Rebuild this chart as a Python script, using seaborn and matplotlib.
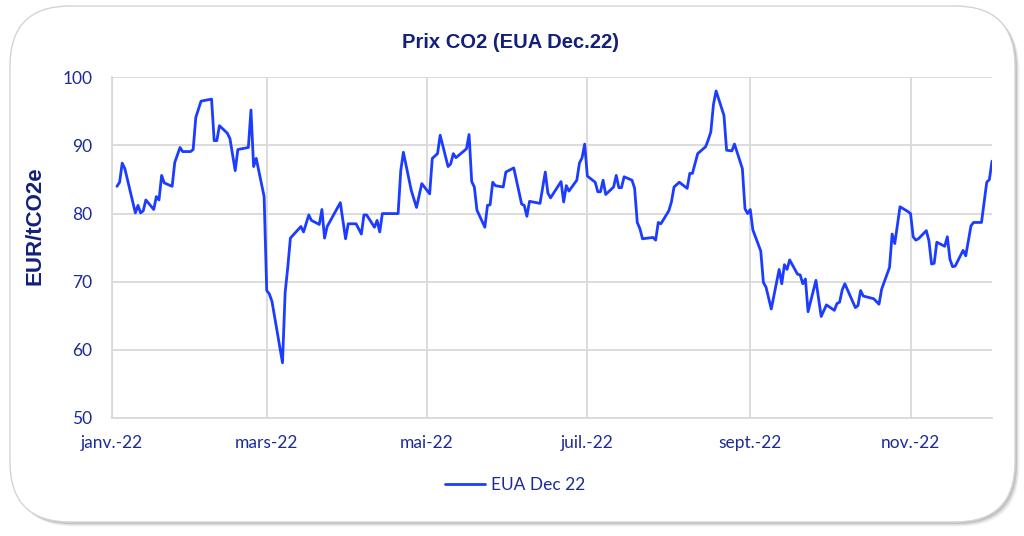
import pandas as pd
import numpy as np
import seaborn as sns
import matplotlib.pyplot as plt
from matplotlib.patches import FancyBboxPatch

# EUA Dec.22 prix de cloture
dates = [
    "01-03", "01-04", "01-05", "01-06", "01-10", "01-11", "01-12", "01-13", "01-14",
    "01-17", "01-18", "01-19", "01-20", "01-21", "01-24", "01-25", "01-27", "01-28",
    "01-31", "02-01", "02-02", "02-04", "02-08", "02-09", "02-10", "02-11", "02-14",
    "02-15", "02-17", "02-18", "02-22", "02-23", "02-24", "02-25", "02-28", "03-01",
    "03-02", "03-03", "03-07", "03-08", "03-09", "03-10", "03-14", "03-15", "03-17",
    "03-18", "03-21", "03-22", "03-23", "03-24", "03-29", "03-31", "04-01", "04-04",
    "04-06", "04-07", "04-08", "04-11", "04-12", "04-13", "04-14", "04-20", "04-21",
    "04-22", "04-25", "04-27", "04-29", "05-02", "05-03", "05-05", "05-06", "05-09",
    "05-10", "05-11", "05-12", "05-16", "05-17", "05-18", "05-19", "05-20", "05-23",
    "05-24", "05-25", "05-26", "05-27", "05-30", "05-31", "06-03", "06-06", "06-07",
    "06-08", "06-09", "06-13", "06-15", "06-16", "06-17", "06-21", "06-22", "06-23",
    "06-24", "06-27", "06-28", "06-29", "06-30", "07-01", "07-04", "07-05", "07-06",
    "07-07", "07-08", "07-11", "07-12", "07-13", "07-14", "07-15", "07-18", "07-19",
    "07-20", "07-21", "07-22", "07-26", "07-27", "07-28", "07-29", "08-01", "08-02",
    "08-03", "08-05", "08-08", "08-09", "08-10", "08-12", "08-15", "08-16", "08-17",
    "08-18", "08-19", "08-22", "08-23", "08-25", "08-26", "08-29", "08-30", "08-31",
    "09-01", "09-02", "09-05", "09-06", "09-07", "09-09", "09-12", "09-13", "09-14",
    "09-15", "09-16", "09-19", "09-20", "09-21", "09-22", "09-23", "09-26", "09-28",
    "09-30", "10-03", "10-04", "10-05", "10-06", "10-07", "10-11", "10-12", "10-13",
    "10-14", "10-18", "10-20", "10-21", "10-24", "10-25", "10-26", "10-28", "10-31",
    "11-01", "11-02", "11-03", "11-04", "11-07", "11-08", "11-09", "11-10", "11-11",
    "11-14", "11-15", "11-16", "11-17", "11-18", "11-21", "11-22", "11-23", "11-24",
    "11-25", "11-28", "11-30", "12-01", "12-02",
]
prix = [
    84.0, 84.6, 87.4, 86.6, 80.1, 81.2, 80.1, 80.4, 82.0,
    80.6, 82.5, 82.0, 85.6, 84.5, 84.0, 87.5, 89.7, 89.1,
    89.1, 89.4, 94.1, 96.5, 96.8, 90.7, 90.7, 92.9, 91.8,
    91.0, 86.3, 89.4, 89.7, 95.2, 86.9, 88.1, 82.5, 68.7,
    68.2, 67.1, 58.1, 68.4, 72.1, 76.4, 78.1, 77.3, 79.8,
    79.0, 78.4, 80.6, 76.4, 78.1, 81.6, 76.3, 78.5, 78.5,
    77.0, 79.8, 79.8, 78.0, 79.0, 77.3, 80.0, 80.0, 86.3,
    89.0, 83.4, 80.9, 84.4, 82.9, 88.1, 88.8, 91.5, 86.9,
    87.3, 88.8, 88.2, 89.5, 91.6, 84.7, 83.9, 80.5, 78.0,
    81.2, 81.3, 84.6, 84.1, 83.9, 86.1, 86.7, 81.4, 81.2,
    79.6, 81.8, 81.5, 86.1, 83.0, 82.3, 84.7, 81.7, 84.1,
    83.3, 84.9, 87.4, 88.2, 90.2, 85.5, 84.6, 83.2, 83.2,
    84.9, 82.8, 83.9, 85.6, 83.8, 83.8, 85.4, 84.9, 83.7,
    78.7, 77.8, 76.3, 76.5, 76.1, 78.7, 78.5, 80.4, 81.7,
    83.9, 84.6, 83.7, 85.9, 85.9, 88.8, 89.8, 90.8, 92.0,
    96.0, 98.0, 94.4, 89.3, 89.2, 90.2, 86.6, 80.7, 80.0,
    80.6, 77.6, 74.5, 69.9, 69.2, 66.0, 71.8, 69.7, 72.5,
    71.8, 73.2, 71.1, 71.0, 69.7, 70.4, 65.6, 70.2, 64.9,
    66.6, 65.8, 66.8, 67.0, 68.8, 69.7, 66.2, 66.5, 68.7,
    67.9, 67.5, 66.7, 68.9, 72.1, 77.0, 75.6, 81.0, 80.3,
    80.0, 76.6, 76.1, 76.3, 77.5, 76.0, 72.6, 72.7, 75.8,
    75.2, 76.6, 73.3, 72.2, 72.3, 74.6, 73.8, 76.0, 78.2,
    78.7, 78.7, 84.6, 85.0, 87.7,
]
tick_dates = ["2022-01-01", "2022-03-01", "2022-05-01", "2022-07-01", "2022-09-01", "2022-11-01"]
tick_labels = ["janv.-22", "mars-22", "mai-22", "juil.-22", "sept.-22", "nov.-22"]
y_ticks = [50, 60, 70, 80, 90, 100]

df = pd.DataFrame({"date": pd.to_datetime(["2022-" + d for d in dates]), "prix": prix})

sns.set_style("white")
plt.rcParams["font.family"] = ["Lato", "DejaVu Sans"]

navy = "#1c2b96"
title_col = "#13207a"
grid_col = "#d9d9d9"
line_col = "#1c3cff"

fig = plt.figure(figsize=(10.24, 5.36), dpi=100)

# cadre arrondi + ombre
for i, a in enumerate([0.05, 0.08, 0.12]):
    off = 0.045 - i * 0.012
    sh = FancyBboxPatch((0.10 + off, 0.14 - off), 10.05, 5.16,
                        boxstyle="round,pad=0,rounding_size=0.6",
                        transform=fig.dpi_scale_trans, facecolor="black",
                        edgecolor="none", alpha=a, zorder=-3)
    fig.add_artist(sh)
box = FancyBboxPatch((0.10, 0.14), 10.05, 5.16,
                     boxstyle="round,pad=0,rounding_size=0.6",
                     transform=fig.dpi_scale_trans, facecolor="white",
                     edgecolor="#d4d4d4", lw=1, zorder=-2)
fig.add_artist(box)

ax = fig.add_axes([111.7 / 1024, 118 / 536, 880.3 / 1024, 340.7 / 536])
ax.set_facecolor("white")

sns.lineplot(data=df, x="date", y="prix", ax=ax, color=line_col, lw=2.0,
             label="EUA Dec 22")

ax.set_xlim(pd.Timestamp("2022-01-01"), pd.Timestamp("2022-12-02"))
ax.set_ylim(50, 100)
ax.set_yticks(y_ticks)
ax.set_xticks(pd.to_datetime(tick_dates))
ax.set_xticklabels(tick_labels)
ax.set_xlabel("")
ax.set_ylabel("")
ax.grid(True, color=grid_col, lw=1.3)
ax.set_axisbelow(True)
for s in ["top", "right"]:
    ax.spines[s].set_visible(False)
for s in ["left", "bottom"]:
    ax.spines[s].set_color(grid_col)
    ax.spines[s].set_linewidth(1.3)
ax.tick_params(axis="x", length=4, width=1.3, color=grid_col, pad=8,
               labelsize=12.5, labelcolor=navy)
ax.tick_params(axis="y", length=0, pad=14, labelsize=12.5, labelcolor=navy)

leg = ax.legend(loc="center", bbox_to_anchor=(0.503, 0.095),
                bbox_transform=fig.transFigure, frameon=False,
                handlelength=2.3, handletextpad=0.3, fontsize=12.5)
for t in leg.get_texts():
    t.set_color(navy)

fig.text(511 / 1024, 1 - 42 / 536, "Prix CO2 (EUA Dec.22)", ha="center", va="center",
         fontsize=14.5, fontweight="bold", color=title_col, family="Liberation Sans")
fig.text(35 / 1024, 1 - 226 / 536, "EUR/tCO2e", ha="center", va="center", rotation=90,
         fontsize=16, fontweight="bold", color=title_col, family="Liberation Sans")

fig.savefig("out.png", dpi=100)
